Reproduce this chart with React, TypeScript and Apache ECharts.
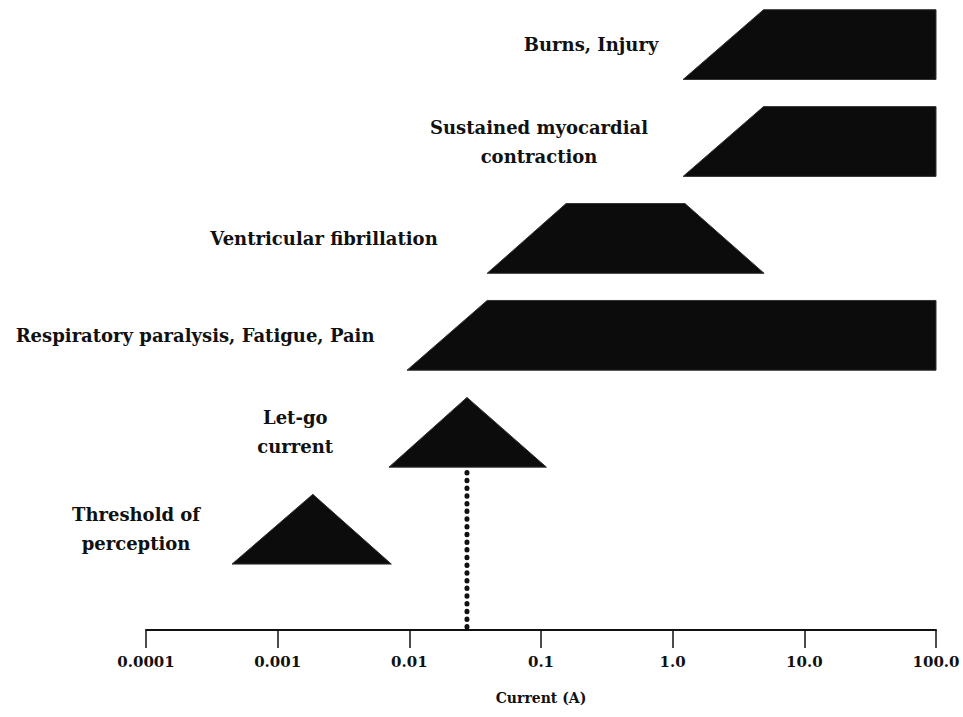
import React, { useEffect, useRef } from "react";
import * as echarts from "echarts";

// Axis ticks (log scale, amps)
const tickValues = [0.0001, 0.001, 0.01, 0.1, 1, 10, 100];
const tickLabels = ["0.0001", "0.001", "0.01", "0.1", "1.0", "10.0", "100.0"];

// Effect bands, bottom (threshold) to top (burns)
const effectNames = [
  "Threshold of\nperception",
  "Let-go\ncurrent",
  "Respiratory paralysis, Fatigue, Pain",
  "Ventricular fibrillation",
  "Sustained myocardial\ncontraction",
  "Burns, Injury",
];
// Current (A) at each corner of the band: bottom-left, top-left, top-right, bottom-right
const bottomLeft = [0.00045, 0.007, 0.0096, 0.039, 1.2, 1.2];
const topLeft = [0.00185, 0.0274, 0.039, 0.155, 4.9, 4.9];
const topRight = [0.00185, 0.0274, 100, 1.24, 100, 100];
const bottomRight = [0.0073, 0.11, 100, 4.95, 100, 100];
// Row levels
const rowBase = [0.68, 1.68, 2.68, 3.68, 4.68, 5.68];
const rowHeight = 0.72;
// Label anchor (current, A) per row
const labelCurrent = [0.000084, 0.00136, 0.000236, 0.00225, 0.0966, 0.24];

// Let-go dotted marker
const letGoCurrent = 0.0274;

export default function App() {
  const ref = useRef<HTMLDivElement>(null);
  useEffect(() => {
    document.body.style.margin = "0";
    const chart = echarts.init(ref.current!, null, { renderer: "svg" });
    const font = "'DejaVu Serif', 'Liberation Serif', serif";
    const shapeData = effectNames.map((_, i) => [
      bottomLeft[i],
      topLeft[i],
      topRight[i],
      bottomRight[i],
      rowBase[i],
    ]);
    const labelData = effectNames.map((n, i) => [labelCurrent[i], rowBase[i] + rowHeight / 2, i]);
    chart.setOption({
      animation: false,
      backgroundColor: "#ffffff",
      grid: { left: 146, right: 27, top: 0, bottom: 87 },
      xAxis: {
        type: "log",
        logBase: 10,
        min: 0.0001,
        max: 100,
        name: "Current (A)",
        nameLocation: "middle",
        nameGap: 61,
        nameTextStyle: { fontFamily: font, fontSize: 14, fontWeight: "bold", color: "#111" },
        axisLine: { show: true, lineStyle: { color: "#111", width: 2 } },
        axisTick: { show: true, inside: false, length: 18, lineStyle: { color: "#111", width: 1.5 } },
        minorTick: { show: false },
        splitLine: { show: false },
        axisLabel: {
          margin: 24,
          fontFamily: font,
          fontSize: 15,
          fontWeight: "bold",
          color: "#111",
          formatter: (v: number) => {
            const idx = tickValues.findIndex((t) => Math.abs(Math.log10(t) - Math.log10(v)) < 0.01);
            return idx >= 0 ? tickLabels[idx] : "";
          },
        },
      },
      yAxis: {
        type: "value",
        min: 0,
        max: 6.5,
        show: false,
        splitLine: { show: false },
      },
      series: [
        {
          type: "custom",
          clip: false,
          encode: { x: [0, 1, 2, 3], y: 4 },
          data: shapeData,
          renderItem: (params: any, api: any) => {
            const base = api.value(4);
            const top = base + rowHeight;
            const pts = [
              api.coord([api.value(0), base]),
              api.coord([api.value(1), top]),
              api.coord([api.value(2), top]),
              api.coord([api.value(3), base]),
            ];
            return {
              type: "polygon",
              shape: { points: pts },
              style: { fill: "#0c0c0c", stroke: "#333", lineWidth: 1 },
            };
          },
        },
        {
          type: "custom",
          clip: false,
          encode: { x: 0, y: 1 },
          data: labelData,
          renderItem: (params: any, api: any) => {
            const p = api.coord([api.value(0), api.value(1)]);
            const i = api.value(2);
            return {
              type: "text",
              x: p[0],
              y: p[1],
              style: {
                text: effectNames[i],
                fontFamily: font,
                fontSize: 18,
                fontWeight: "bold",
                lineHeight: 29,
                fill: "#111",
                align: "center",
                verticalAlign: "middle",
              },
            };
          },
        },
        {
          type: "line",
          symbol: "none",
          data: [
            [letGoCurrent, 0.03],
            [letGoCurrent, rowBase[1]],
          ],
          lineStyle: { color: "#111", width: 5, type: [0.5, 7.2], cap: "round" },
        },
      ],
    });
    return () => chart.dispose();
  }, []);
  return <div ref={ref} style={{ width: 963, height: 717 }} />;
}
